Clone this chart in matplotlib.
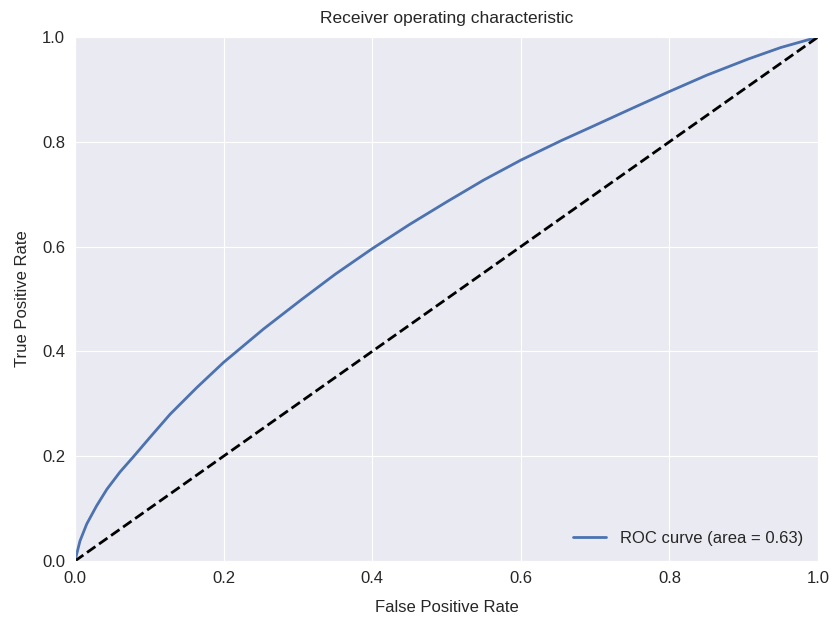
import matplotlib
matplotlib.use("Agg")
import matplotlib.pyplot as plt
import seaborn as sns

# ROC curve points
fpr = [0.0, 0.0067, 0.0158, 0.029, 0.043, 0.0607, 0.0787, 0.101, 0.128, 0.164,
       0.2, 0.254, 0.305, 0.35, 0.4, 0.45, 0.501, 0.55, 0.6, 0.654,
       0.6945, 0.75, 0.8, 0.85, 0.906, 0.95, 1.0]
tpr = [0.0, 0.038, 0.0705, 0.105, 0.137, 0.170, 0.199, 0.236, 0.280, 0.331,
       0.379, 0.443, 0.499, 0.547, 0.596, 0.642, 0.686, 0.727, 0.765, 0.802,
       0.828, 0.864, 0.896, 0.927, 0.958, 0.98, 1.0]
rocArea = 0.63
chanceLine = [0.0, 1.0]

sns.set_style("darkgrid")
plt.rcParams['font.family'] = ['Liberation Sans', 'DejaVu Sans']

fig = plt.figure(figsize=(8.32, 6.2), dpi=100)
ax = fig.add_axes([0.0901, 0.0952, 0.8931, 0.8451])

ax.plot(fpr, tpr, color="#4C72B0", linewidth=2, solid_joinstyle="round",
        label="ROC curve (area = %0.2f)" % rocArea)
ax.plot(chanceLine, chanceLine, color="black", linestyle="--", linewidth=2)
ax.set_xlim(0.0, 1.0)
ax.set_ylim(0.0, 1.0)
ax.set_xlabel("False Positive Rate", fontsize=12, color="#262626", labelpad=10)
ax.set_ylabel("True Positive Rate", fontsize=12, color="#262626", labelpad=9)
ax.set_title("Receiver operating characteristic", fontsize=12.5, color="#262626", pad=10)
ax.tick_params(labelsize=12, colors="#262626", length=0, pad=7)
ax.legend(loc="lower right", fontsize=12, frameon=False)

fig.savefig("out.png", dpi=100)
